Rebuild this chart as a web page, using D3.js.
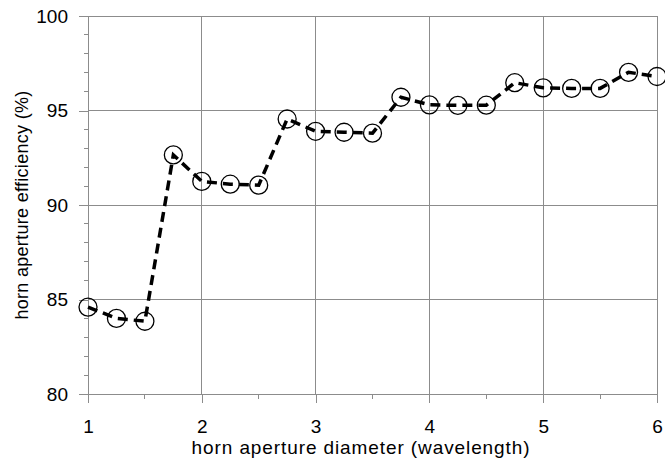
<!DOCTYPE html>
<html>
<head>
<meta charset="utf-8">
<script src="https://cdn.jsdelivr.net/npm/d3@7"></script>
<style>
  body { margin: 0; background: #fff; }
  text { font-family: "Liberation Sans", Arial, sans-serif; }
</style>
</head>
<body>
<div id="chart"></div>
<script>
// data
const diameters = [1, 1.25, 1.5, 1.75, 2, 2.25, 2.5, 2.75, 3, 3.25, 3.5, 3.75, 4, 4.25, 4.5, 4.75, 5, 5.25, 5.5, 5.75, 6];
const efficiency = [84.6, 84.0, 83.85, 92.65, 91.25, 91.1, 91.05, 94.55, 93.9, 93.85, 93.8, 95.7, 95.3, 95.27, 95.28, 96.47, 96.2, 96.17, 96.17, 97.02, 96.8];
const xTicks = [1, 2, 3, 4, 5, 6];
const yTicks = [80, 85, 90, 95, 100];

const W = 665, H = 466;
const margin = { top: 16, right: 8, bottom: 72, left: 88 },
  width = W - margin.left - margin.right,
  height = H - margin.top - margin.bottom;

const svg = d3.select("#chart")
  .append("svg")
  .attr("width", W)
  .attr("height", H)
  .append("g")
  .attr("transform", `translate(${margin.left},${margin.top})`);

const x = d3.scaleLinear().domain([1, 6]).range([0, width]);
const y = d3.scaleLinear().domain([80, 100]).range([height, 0]);

const gridColor = "#8c8c8c";

// grid
svg.selectAll(".vgrid").data(xTicks).enter().append("line")
  .attr("x1", d => x(d)).attr("x2", d => x(d))
  .attr("y1", 0).attr("y2", height)
  .attr("stroke", gridColor).attr("stroke-width", 1).attr("shape-rendering", "crispEdges");
svg.selectAll(".hgrid").data(yTicks).enter().append("line")
  .attr("x1", 0).attr("x2", width)
  .attr("y1", d => y(d)).attr("y2", d => y(d))
  .attr("stroke", gridColor).attr("stroke-width", 1).attr("shape-rendering", "crispEdges");

// minor ticks
const yMinor = d3.range(80, 100.01, 1).filter(v => v % 5 !== 0);
svg.selectAll(".ym").data(yMinor).enter().append("line")
  .attr("x1", -4).attr("x2", 0)
  .attr("y1", d => y(d)).attr("y2", d => y(d))
  .attr("stroke", gridColor).attr("shape-rendering", "crispEdges");
const xMinor = d3.range(1.5, 6, 1);
svg.selectAll(".xm").data(xMinor).enter().append("line")
  .attr("x1", d => x(d)).attr("x2", d => x(d))
  .attr("y1", height).attr("y2", height + 5)
  .attr("stroke", gridColor).attr("shape-rendering", "crispEdges");

// axes
const xAxis = svg.append("g")
  .attr("transform", `translate(0,${height})`)
  .call(d3.axisBottom(x).tickValues(xTicks).tickFormat(d3.format("d")).tickSize(9).tickSizeOuter(0).tickPadding(17));
const yAxis = svg.append("g")
  .call(d3.axisLeft(y).tickValues(yTicks).tickSize(9).tickSizeOuter(0).tickPadding(11));

[xAxis, yAxis].forEach(a => {
  a.selectAll("path, line").attr("stroke", gridColor).attr("shape-rendering", "crispEdges");
  a.selectAll("text").attr("font-size", "19px").attr("fill", "#000")
    .style("font-family", "'Liberation Sans', Arial, sans-serif");
});

// dashed line
const line = d3.line().x((d, i) => x(diameters[i])).y(d => y(d));
svg.append("path")
  .datum(efficiency)
  .attr("fill", "none")
  .attr("stroke", "#000")
  .attr("stroke-width", 3.5)
  .attr("stroke-dasharray", "10,6")
  .attr("d", line);

// markers
svg.selectAll(".pt").data(efficiency).enter().append("circle")
  .attr("cx", (d, i) => x(diameters[i]))
  .attr("cy", d => y(d))
  .attr("r", 9)
  .attr("fill", "none")
  .attr("stroke", "#000")
  .attr("stroke-width", 1.3);

// axis labels
svg.append("text")
  .attr("x", 361 - margin.left)
  .attr("y", height + 60)
  .attr("text-anchor", "middle")
  .attr("font-size", "19px")
  .attr("letter-spacing", "0.9px")
  .text("horn aperture diameter (wavelength)");

svg.append("text")
  .attr("transform", `translate(${-60},${height / 2}) rotate(-90)`)
  .attr("text-anchor", "middle")
  .attr("font-size", "18px")
  .attr("letter-spacing", "0.3px")
  .text("horn aperture efficiency (%)");
</script>
</body>
</html>
